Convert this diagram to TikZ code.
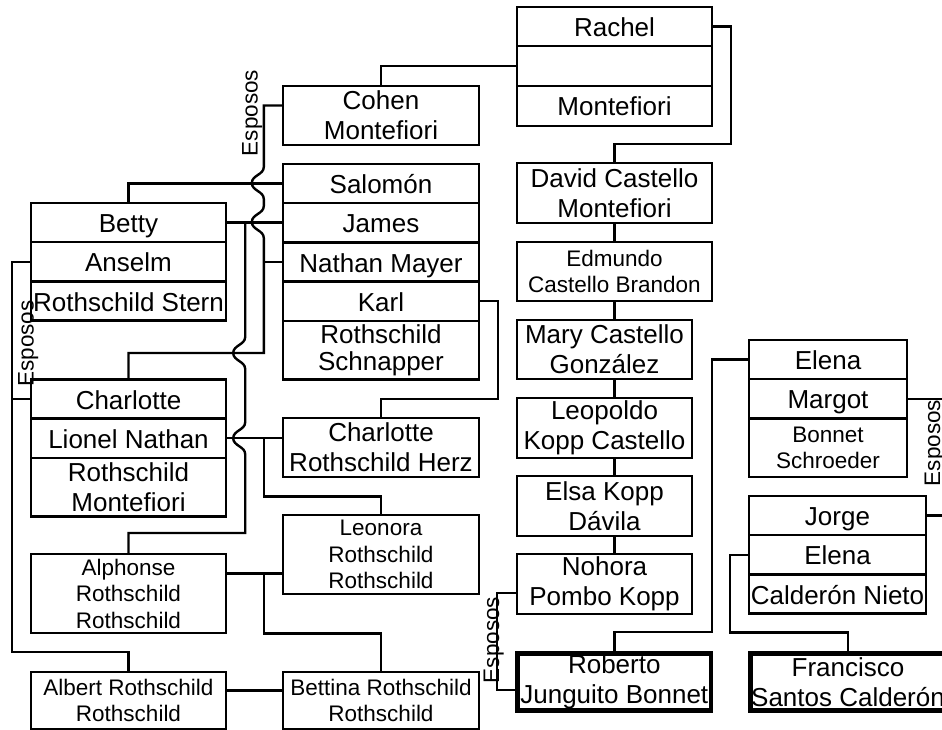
\documentclass[tikz,border=0pt]{standalone}
\usepackage{fontspec}
\setmainfont{Liberation Sans}

\newcommand{\bignames}{\fontsize{26}{30}\selectfont}
\newcommand{\smallnames}{\fontsize{22.5}{26.5}\selectfont}

\tikzset{
    cell/.style={draw, rectangle, line width=2.4pt, inner sep=0pt, align=center, font=\bignames},
    smallcell/.style={cell, font=\smallnames},
    oneline/.style={text height=20pt, text depth=0pt},
    thickcell/.style={cell, line width=4.5pt},
    link/.style={line width=2.4pt},
    linejump/.style={insert path={to[out=-90,in=90] ++(-12,16) to[out=-90,in=90] ++(12,16)}},
    spouse/.style={rotate=90, anchor=base, inner sep=0pt, font=\smallnames}
}

\begin{document}
\begin{tikzpicture}[x=1pt, y=-1pt]

    \useasboundingbox (0,0) rectangle (942,730);

    % Left column
    % Draw box for Betty / Anselm / Rothschild Stern
    \node[cell, oneline, minimum width=195pt, minimum height=39.2pt] (betty) at (128.5, 222.6) {Betty};
    \node[cell, oneline, minimum width=195pt, minimum height=39.2pt] (anselm) at (128.5, 261.8) {Anselm};
    \node[cell, oneline, minimum width=195pt, minimum height=39.2pt] (stern) at (128.5, 301) {Rothschild Stern};
    % Draw box for Charlotte / Lionel Nathan / Rothschild Montefiori
    \node[cell, oneline, minimum width=195pt, minimum height=39.2pt] (charlotte) at (128.5, 399) {Charlotte};
    \node[cell, oneline, minimum width=195pt, minimum height=39.2pt] (lionel) at (128.5, 438.2) {Lionel Nathan};
    \node[cell, minimum width=195pt, minimum height=58.8pt] (lmontefiori) at (128.5, 487.2) {Rothschild\\Montefiori};
    % Draw boxes for the children
    \node[smallcell, minimum width=195pt, minimum height=79pt] (alphonse) at (128.5, 593.5) {Alphonse\\Rothschild\\Rothschild};
    \node[smallcell, minimum width=195pt, minimum height=57pt] (albert) at (128.5, 700.5) {Albert Rothschild\\Rothschild};

    % Middle column
    % Draw box for Cohen Montefiori
    \node[cell, minimum width=196pt, minimum height=59pt] (cohen) at (381, 115.5) {Cohen\\Montefiori};
    % Draw box for Salomón / James / Nathan Mayer / Karl / Rothschild Schnapper
    \node[cell, oneline, minimum width=196pt, minimum height=39.2pt] (salomon) at (381, 183.6) {Salomón};
    \node[cell, oneline, minimum width=196pt, minimum height=39.2pt] (james) at (381, 222.8) {James};
    \node[cell, oneline, minimum width=196pt, minimum height=39.2pt] (nathan) at (381, 262) {Nathan Mayer};
    \node[cell, oneline, minimum width=196pt, minimum height=39.2pt] (karl) at (381, 301.2) {Karl};
    \node[cell, font=\fontsize{26}{27.5}\selectfont, minimum width=196pt, minimum height=58.8pt] (schnapper) at (381, 350.2) {Rothschild\\Schnapper};
    % Draw boxes for the children
    \node[cell, minimum width=196pt, minimum height=59pt] (herz) at (381, 447.5) {Charlotte\\Rothschild Herz};
    \node[smallcell, minimum width=196pt, minimum height=79pt] (leonora) at (381, 554.5) {Leonora\\Rothschild\\Rothschild};
    \node[smallcell, minimum width=196pt, minimum height=57pt] (bettina) at (381, 700.5) {Bettina Rothschild\\Rothschild};

    % Right middle column
    % Draw box for Rachel / (empty) / Montefiori
    \node[cell, oneline, minimum width=195pt, minimum height=39pt] (rachel) at (614.5, 26.5) {Rachel};
    \node[cell, oneline, minimum width=195pt, minimum height=40pt] (rachelb) at (614.5, 66) {};
    \node[cell, oneline, minimum width=195pt, minimum height=40pt] (rmontefiori) at (614.5, 106) {Montefiori};
    % Draw boxes for the descendants
    \node[cell, minimum width=195pt, minimum height=60pt] (david) at (614.5, 193) {David Castello\\Montefiori};
    \node[smallcell, minimum width=195pt, minimum height=59pt] (edmundo) at (614.5, 271.5) {Edmundo\\Castello Brandon};
    \node[cell, minimum width=175pt, minimum height=59pt] (mary) at (604.5, 349.5) {Mary Castello\\González};
    \node[cell, minimum width=175pt, minimum height=60pt] (leopoldo) at (604.5, 428) {Leopoldo\\Kopp Castello};
    \node[cell, minimum width=175pt, minimum height=60pt] (elsa) at (604.5, 506) {Elsa Kopp\\Dávila};
    \node[cell, minimum width=175pt, minimum height=60pt] (nohora) at (604.5, 584) {Nohora\\Pombo Kopp};
    \node[thickcell, minimum width=193.5pt, minimum height=57pt] (roberto) at (614.3, 682) {Roberto\\Junguito Bonnet};

    % Right column
    % Draw box for Elena / Margot / Bonnet Schroeder
    \node[cell, oneline, minimum width=158pt, minimum height=39.2pt] (elena) at (828, 359.5) {Elena};
    \node[cell, oneline, minimum width=158pt, minimum height=39.2pt] (margot) at (828, 398.7) {Margot};
    \node[smallcell, minimum width=158pt, minimum height=58.8pt] (schroeder) at (828, 447.7) {Bonnet\\Schroeder};
    % Draw box for Jorge / Elena / Calderón Nieto
    \node[cell, oneline, minimum width=177pt, minimum height=39.2pt] (jorge) at (837.5, 515.6) {Jorge};
    \node[cell, oneline, minimum width=177pt, minimum height=39.2pt] (elenab) at (837.5, 554.8) {Elena};
    \node[cell, oneline, minimum width=177pt, minimum height=39.2pt] (calderon) at (837.5, 594) {Calderón Nieto};
    \node[thickcell, minimum width=195pt, minimum height=57pt] (francisco) at (848, 682) {Francisco\\Santos Calderón};

    % Draw connectors of the Montefiori line
    \draw[link] (cohen.north) |- (rachelb.west);
    \draw[link] (rachel.east) -- ++(18,0) -- ++(0,117.5) -| (david.north);
    \draw[link] (david.south) -- (edmundo.north);
    \draw[link] (edmundo.south) -- (edmundo.south |- mary.north);
    \draw[link] (mary.south -| david.south) -- (leopoldo.north -| david.south);
    \draw[link] (leopoldo.south -| david.south) -- (elsa.north -| david.south);
    \draw[link] (elsa.south -| david.south) -- (nohora.north -| david.south);

    % Draw connectors of Nathan Mayer and Cohen Montefiori (with line jumps)
    \draw[link] ([yshift=10pt]cohen.west) -- ++(-18,0) -- ++(0,61.5) [linejump] -- ++(0,7) [linejump] -- ++(0,115) -| (charlotte.north);
    \draw[link] (nathan.west) -- ++(-18,0);

    % Draw connectors of Salomón, Betty and James
    \draw[link] (salomon.west) -| (betty.north);
    \draw[link] (betty.east) -- (betty.east -| james.west);
    \coordinate (bj) at ([xshift=18pt]betty.east);
    \draw[link] (bj) -- ++(0,114.4) [linejump] -- ++(0,53.2) [linejump] -- ++(0,78.8) -| (alphonse.north);

    % Draw connectors of Karl
    \draw[link] (karl.east) -- ++(18,0) -- ++(0,97.5) -| (herz.north);

    % Draw connectors of Anselm and Charlotte
    \draw[link] (anselm.west) -- ++(-18,0) coordinate (ac) |- (charlotte.west);
    \draw[link] (ac) -- ++(0,390) -| (albert.north);

    % Draw connectors of Lionel Nathan
    \draw[link] (lionel.east) -- (lionel.east -| herz.west);
    \coordinate (ln) at ([xshift=37pt]lionel.east);
    \draw[link] (ln) -- ++(0,58.3) -| (leonora.north);

    % Draw connectors of Alphonse and Albert
    \coordinate (al) at ([yshift=20pt]alphonse.east);
    \draw[link] (al) -- (al -| leonora.west);
    \coordinate (alb) at ([xshift=37pt]al);
    \draw[link] (alb) -- ++(0,60) -| (bettina.north);
    \coordinate (ab) at ([yshift=10pt]albert.east);
    \draw[link] (ab) -- (ab -| bettina.west);

    % Draw connectors of Nohora, Elena and Margot
    \draw[link] ([yshift=-9pt]nohora.west) -- ++(-19,0) |- ([yshift=-8pt]roberto.west);
    \draw[link] (elena.west) -- ++(-36,0) -- ++(0,272.5) -| (roberto.north);
    \draw[link] (elenab.west) -- ++(-18,0) -- ++(0,77.5) -| (francisco.north);
    \draw[link] (margot.east) -- ++(38,0) |- (jorge.east);

    % Draw spouse labels
    \node[spouse] (esposos_cohen) at (257.5, 113) {Esposos};
    \node[spouse] (esposos_anselm) at (33.5, 343.5) {Esposos};
    \node[spouse] (esposos_nohora) at (499, 640) {Esposos};
    \node[spouse] (esposos_margot) at (940, 443) {Esposos};

\end{tikzpicture}
\end{document}
